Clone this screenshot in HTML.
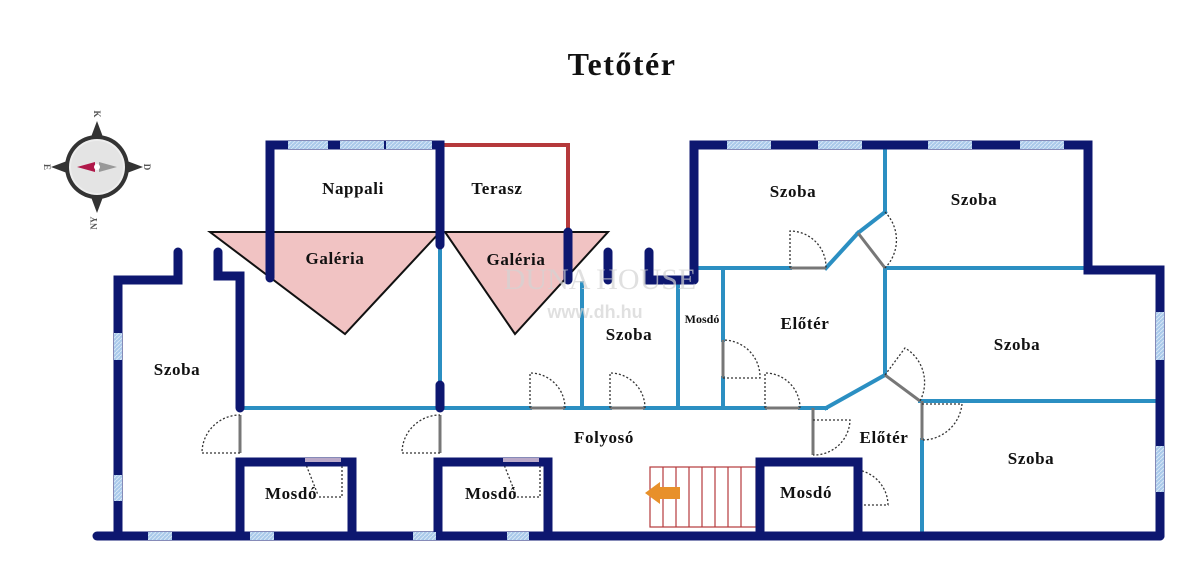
<!DOCTYPE html>
<html><head><meta charset="utf-8"><style>
html,body{margin:0;padding:0;background:#fff}
svg{display:block}
text{font-family:"Liberation Serif",serif;font-weight:bold;fill:#111}
</style></head><body>
<svg width="1200" height="572" viewBox="0 0 1200 572" xmlns="http://www.w3.org/2000/svg">
<defs>
<pattern id="win" width="4" height="4" patternUnits="userSpaceOnUse"><rect width="4" height="4" fill="#a9c9ea"/><path d="M0 4L4 0" stroke="#d6e6f6" stroke-width="1"/></pattern>
</defs>
<text x="622" y="75" font-size="32" letter-spacing="1.5" text-anchor="middle">Tetőtér</text>

<!-- compass -->
<g transform="translate(97,167)">
<polygon points="0,-46 6,-30 -6,-30" fill="#333"/>
<polygon points="0,46 6,30 -6,30" fill="#333"/>
<polygon points="-46,0 -30,6 -30,-6" fill="#333"/>
<polygon points="46,0 30,6 30,-6" fill="#333"/>
<circle r="32" fill="#333"/><circle r="28" fill="#eee"/><circle r="26" fill="#e4e4e4"/>
<polygon points="-20,0 -2,-5 -2,5" fill="#b0194a"/>
<polygon points="20,0 2,-5 2,5" fill="#999"/>
<circle r="3" fill="#fff"/>
<text x="0" y="-50" font-size="9" transform="rotate(90 0 -53)" text-anchor="middle" style="fill:#555">K</text>
<text x="50" y="3" font-size="9" transform="rotate(90 50 0)" text-anchor="middle" style="fill:#555">D</text>
<text x="-50" y="3" font-size="9" transform="rotate(90 -50 0)" text-anchor="middle" style="fill:#555">E</text>
<text x="0" y="56" font-size="9" transform="rotate(-90 0 56)" text-anchor="middle" style="fill:#555">NY</text>
</g>

<!-- galeria triangles -->
<polygon points="210,232 440,232 345,334" fill="#f1c3c3" stroke="#111" stroke-width="2"/>
<polygon points="445,232 608,232 515,334" fill="#f1c3c3" stroke="#111" stroke-width="2"/>

<!-- terrace red -->
<polyline points="440,145 568,145 568,232" fill="none" stroke="#b5393b" stroke-width="4"/>

<!-- light blue walls -->
<g stroke="#2b8fc2" stroke-width="4" fill="none" stroke-linecap="square">
<line x1="240" y1="408" x2="530" y2="408"/>
<line x1="565" y1="408" x2="610" y2="408"/>
<line x1="645" y1="408" x2="765" y2="408"/>
<line x1="800" y1="408" x2="826" y2="408"/>
<line x1="826" y1="408" x2="885" y2="375"/>
<line x1="920" y1="401" x2="1160" y2="401"/>
<line x1="440" y1="245" x2="440" y2="385"/>
<line x1="582" y1="283" x2="582" y2="408"/>
<line x1="678" y1="283" x2="678" y2="408"/>
<line x1="723" y1="270" x2="723" y2="340"/>
<line x1="723" y1="378" x2="723" y2="408"/>
<line x1="697" y1="268" x2="790" y2="268"/>
<line x1="826" y1="268" x2="858" y2="233"/>
<line x1="858" y1="233" x2="885" y2="212"/>
<line x1="885" y1="145" x2="885" y2="212"/>
<line x1="885" y1="268" x2="885" y2="375"/>
<line x1="885" y1="268" x2="1088" y2="268"/>
<line x1="922" y1="440" x2="922" y2="530"/>
</g>
<!-- gray door leaves -->
<g stroke="#777" stroke-width="3">
<line x1="790" y1="268" x2="826" y2="268"/>
<line x1="858" y1="233" x2="885" y2="268"/>
<line x1="885" y1="375" x2="920" y2="401"/>
<line x1="723" y1="340" x2="723" y2="378"/>
<line x1="765" y1="408" x2="800" y2="408"/>
<line x1="530" y1="408" x2="565" y2="408"/>
<line x1="610" y1="408" x2="645" y2="408"/>
<line x1="813" y1="408" x2="813" y2="455"/>
<line x1="922" y1="401" x2="922" y2="440"/>
<line x1="240" y1="415" x2="240" y2="453"/>
<line x1="440" y1="415" x2="440" y2="453"/>
</g>
<!-- door arcs -->
<g stroke="#333" stroke-width="1.3" stroke-dasharray="2,2" fill="none">
<path d="M240 453 L202 453 A38 38 0 0 1 240 415"/>
<path d="M440 453 L402 453 A38 38 0 0 1 440 415"/>
<path d="M530 408 L530 373 A35 35 0 0 1 565 408"/>
<path d="M610 408 L610 373 A35 35 0 0 1 645 408"/>
<path d="M723 378 L760 378 A37 37 0 0 0 723 340"/>
<path d="M765 408 L765 373 A35 35 0 0 1 800 408"/>
<path d="M790 268 L790 231 A36 36 0 0 1 826 268"/>
<path d="M885 212 A40 40 0 0 1 885 268"/>
<path d="M885 375 L905 348 A40 40 0 0 1 920 401"/>
<path d="M813 420 L850 420 A36 36 0 0 1 813 455"/>
<path d="M922 404 L962 404 A40 40 0 0 1 922 440"/>
<path d="M858 470 A36 36 0 0 1 888 505 L858 505"/>
<path d="M305 462 L318 495 M342 462 L342 497 L318 497"/>
<path d="M503 462 L516 495 M540 462 L540 497 L516 497"/>
</g>

<!-- stairs -->
<g stroke="#b5393b" stroke-width="1.2" fill="none">
<rect x="650" y="467" width="106" height="60"/>
<line x1="663" y1="467" x2="663" y2="527"/><line x1="676" y1="467" x2="676" y2="527"/>
<line x1="689" y1="467" x2="689" y2="527"/><line x1="702" y1="467" x2="702" y2="527"/>
<line x1="715" y1="467" x2="715" y2="527"/><line x1="728" y1="467" x2="728" y2="527"/>
<line x1="741" y1="467" x2="741" y2="527"/>
</g>
<polygon points="645,493 660,482 660,487 680,487 680,499 660,499 660,504" fill="#e8902a"/>

<!-- navy walls -->
<g stroke="#0d1770" stroke-width="9" fill="none" stroke-linecap="round" stroke-linejoin="miter">
<line x1="97" y1="536" x2="1160" y2="536"/>
<polyline points="118,536 118,280 178,280 178,252"/>
<polyline points="218,252 218,276 240,276 240,408"/>
<polyline points="270,278 270,145 440,145 440,245"/>
<line x1="440" y1="385" x2="440" y2="408"/>
<line x1="568" y1="232" x2="568" y2="280"/>
<line x1="608" y1="252" x2="608" y2="280"/>
<polyline points="649,252 649,280 694,280"/>
<polyline points="694,280 694,145 1088,145 1088,270 1160,270 1160,536"/>
<polyline points="240,536 240,462 352,462 352,536"/>
<polyline points="438,536 438,462 548,462 548,536"/>
<polyline points="760,536 760,462 858,462 858,536"/>
</g>
<!-- windows -->
<g fill="url(#win)">
<rect x="288" y="141" width="40" height="8"/><rect x="340" y="141" width="44" height="8"/><rect x="386" y="141" width="46" height="8"/>
<rect x="727" y="141" width="44" height="8"/><rect x="818" y="141" width="44" height="8"/>
<rect x="928" y="141" width="44" height="8"/><rect x="1020" y="141" width="44" height="8"/>
<rect x="1156" y="312" width="8" height="48"/><rect x="1156" y="446" width="8" height="46"/>
<rect x="114" y="333" width="8" height="27"/><rect x="114" y="475" width="8" height="26"/>
<rect x="148" y="532" width="24" height="8"/><rect x="250" y="532" width="24" height="8"/>
<rect x="413" y="532" width="23" height="8"/><rect x="507" y="532" width="22" height="8"/>
<rect x="305" y="458" width="36" height="4" fill="#b9a8c8"/><rect x="503" y="458" width="36" height="4" fill="#b9a8c8"/>
</g>

<!-- watermark -->
<text x="600" y="289" font-size="30" text-anchor="middle" style="fill:#d4d4d4;font-weight:normal;opacity:.7">DUNA HOUSE</text>
<text x="595" y="318" font-size="18" text-anchor="middle" style="fill:#d4d4d4;opacity:.7;font-family:'Liberation Sans',sans-serif">www.dh.hu</text>

<!-- labels -->
<g font-size="17" letter-spacing="0.6">
<text x="353" y="194" text-anchor="middle">Nappali</text>
<text x="497" y="194" text-anchor="middle">Terasz</text>
<text x="335" y="264" text-anchor="middle">Galéria</text>
<text x="516" y="265" text-anchor="middle">Galéria</text>
<text x="177" y="375" text-anchor="middle">Szoba</text>
<text x="629" y="340" text-anchor="middle">Szoba</text>
<text x="702" y="323" text-anchor="middle" font-size="12" letter-spacing="0">Mosdó</text>
<text x="805" y="329" text-anchor="middle">Előtér</text>
<text x="793" y="197" text-anchor="middle">Szoba</text>
<text x="974" y="205" text-anchor="middle">Szoba</text>
<text x="1017" y="350" text-anchor="middle">Szoba</text>
<text x="1031" y="464" text-anchor="middle">Szoba</text>
<text x="604" y="443" text-anchor="middle">Folyosó</text>
<text x="884" y="443" text-anchor="middle">Előtér</text>
<text x="291" y="499" text-anchor="middle">Mosdó</text>
<text x="491" y="499" text-anchor="middle">Mosdó</text>
<text x="806" y="498" text-anchor="middle">Mosdó</text>
</g>
</svg>
</body></html>
